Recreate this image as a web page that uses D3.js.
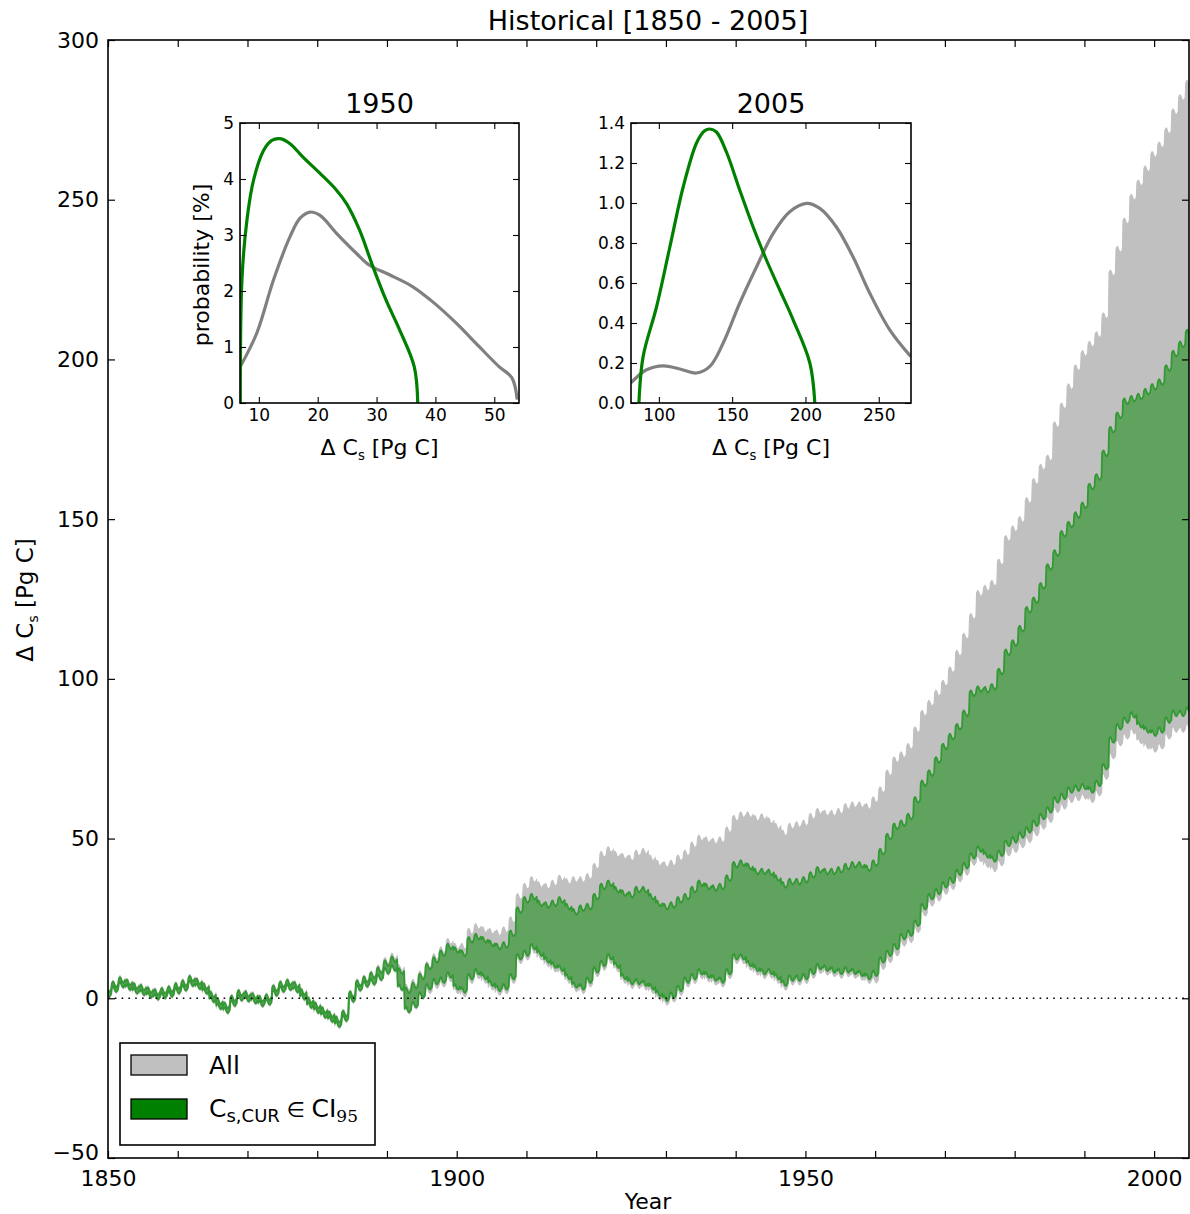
<!DOCTYPE html>
<html>
<head>
<meta charset="utf-8">
<script src="https://cdn.jsdelivr.net/npm/d3@7"></script>
<style>
  body { margin: 0; background: #fff; }
  text { font-family: "DejaVu Sans", sans-serif; fill: #000; }
</style>
</head>
<body>
<svg id="chart" width="1190" height="1214"></svg>
<script>
// ---- data ----
const firstYear = 1850, lastYear = 2005;
const years = d3.range(firstYear, lastYear + 1);

// annual edges of the "All" ensemble band (grey)
const grayHigh = [
  3.2, 4.7, 6.1, 5.3, 4.2, 3.7, 2.9, 2.3, 2.7, 3.2,
  4.2, 5.1, 6.5, 5.6, 4.1, 1.5, -0.7, -1.9, 0.3, 2.0,
  1.7, 1.1, 0.2, 0.7, 3.5, 4.7, 5.3, 4.6, 2.3, -0.3,
  -1.9, -3.4, -4.7, -6.3, -4.4, 1.6, 5.1, 6.3, 7.6, 9.4,
  11.8, 13.2, 9.5, 3.5, 5.0, 7.6, 10.5, 13.0, 15.1, 17.7,
  16.2, 16.2, 20.9, 22.4, 21.4, 20.9, 20.4, 21.4, 24.5, 31.8,
  35.0, 37.1, 35.5, 35.0, 36.0, 37.6, 36.5, 37.1, 37.1, 38.1,
  41.3, 45.0, 46.5, 45.0, 44.4, 43.9, 45.4, 46.0, 43.9, 42.3,
  41.8, 42.3, 43.9, 45.4, 48.0, 50.1, 49.6, 49.1, 49.6, 52.7,
  56.3, 57.4, 57.4, 56.3, 56.8, 55.5, 53.8, 51.7, 53.8, 54.3,
  54.8, 56.9, 58.5, 57.9, 57.9, 58.5, 60.0, 60.5, 60.5, 60.0,
  62.1, 65.2, 70.5, 74.6, 76.2, 78.8, 84.0, 89.2, 92.3, 95.5,
  98.6, 102.8, 108.0, 113.3, 119.5, 126.7, 128.3, 129.9, 136.5, 143.9,
  146.9, 149.8, 155.8, 161.7, 166.2, 169.1, 179.5, 185.4, 191.4, 197.3,
  201.8, 204.7, 207.7, 213.6, 227.0, 234.4, 243.3, 250.7, 255.2, 259.6,
  264.1, 267.1, 271.5, 277.5, 281.9, 286.4
];
const grayLow = [
  1.0, 2.5, 3.9, 3.1, 2.0, 1.5, 0.7, 0.1, 0.5, 1.0,
  2.0, 2.9, 4.3, 3.4, 1.9, -0.7, -2.9, -4.1, -1.9, -0.2,
  -0.5, -1.1, -2.0, -1.5, 1.3, 2.5, 3.1, 2.4, 0.1, -2.5,
  -4.1, -5.6, -6.9, -8.5, -6.6, -0.6, 2.9, 4.1, 4.8, 6.2,
  8.2, 9.1, 3.1, -3.9, -2.4, 0.6, 2.4, 4.0, 4.5, 6.1,
  2.4, 1.4, 5.6, 7.1, 5.6, 3.5, 1.9, 2.4, 5.6, 11.8,
  12.9, 15.0, 12.9, 10.8, 9.2, 8.2, 5.6, 3.0, 2.4, 4.5,
  7.7, 9.7, 11.8, 9.2, 5.6, 4.0, 4.0, 3.5, 2.4, 0.3,
  -1.2, -0.2, 1.9, 4.5, 5.6, 7.1, 6.1, 5.1, 4.5, 7.1,
  11.8, 11.8, 9.7, 8.2, 7.1, 7.2, 5.6, 3.5, 5.1, 5.1,
  5.6, 7.2, 8.7, 8.2, 7.7, 7.2, 7.7, 7.2, 6.6, 5.6,
  5.8, 10.0, 12.1, 14.2, 17.3, 18.4, 21.5, 26.7, 29.8, 31.4,
  33.5, 35.0, 37.4, 39.5, 42.6, 43.7, 41.9, 40.6, 42.4, 45.5,
  46.6, 48.1, 49.7, 51.8, 53.9, 56.0, 59.1, 60.2, 62.2, 62.8,
  63.3, 62.2, 64.3, 69.5, 75.9, 80.0, 82.1, 83.7, 80.6, 79.0,
  78.0, 79.0, 82.1, 84.2, 84.2, 85.2
];
// annual edges of the Cs,CUR in CI95 band (green)
const greenHigh = [
  2.8, 4.3, 5.7, 4.9, 3.8, 3.3, 2.5, 1.9, 2.3, 2.8,
  3.8, 4.7, 6.1, 5.2, 3.7, 1.1, -1.1, -2.3, -0.1, 1.6,
  1.3, 0.7, -0.2, 0.3, 3.1, 4.3, 4.9, 4.2, 1.9, -0.7,
  -2.3, -3.8, -5.1, -6.7, -4.8, 1.2, 4.7, 5.9, 7.2, 8.8,
  11.0, 12.2, 8.5, 2.5, 4.0, 6.8, 9.9, 12.0, 14.1, 16.2,
  15.1, 14.1, 18.3, 19.3, 18.3, 17.2, 16.2, 16.7, 20.3, 27.6,
  30.8, 31.8, 29.7, 29.2, 29.7, 30.8, 28.7, 27.1, 28.2, 28.7,
  31.8, 35.0, 36.0, 34.0, 32.9, 32.4, 34.0, 34.0, 31.8, 29.7,
  28.7, 29.2, 30.8, 31.8, 34.0, 36.0, 35.0, 34.5, 35.0, 37.6,
  41.8, 42.3, 41.2, 39.7, 39.7, 39.4, 37.6, 35.5, 36.5, 36.5,
  37.1, 38.6, 40.2, 39.7, 39.7, 40.2, 41.2, 41.8, 41.8, 40.7,
  42.3, 45.9, 50.6, 53.8, 54.8, 56.9, 62.1, 67.3, 70.5, 74.6,
  78.8, 81.9, 85.0, 89.2, 95.5, 96.8, 96.6, 97.5, 102.3, 108.3,
  111.2, 115.7, 121.6, 124.6, 129.1, 135.0, 139.4, 145.4, 148.3, 151.3,
  154.3, 160.2, 163.2, 170.6, 178.0, 182.5, 186.9, 187.7, 188.4, 189.9,
  191.4, 192.9, 197.3, 201.8, 204.7, 208.4
];
const greenLow = [
  1.4, 2.9, 4.3, 3.5, 2.4, 1.9, 1.1, 0.5, 0.9, 1.4,
  2.4, 3.3, 4.7, 3.8, 2.3, -0.3, -2.5, -3.7, -1.5, 0.2,
  -0.1, -0.7, -1.6, -1.1, 1.7, 2.9, 3.5, 2.8, 0.5, -2.1,
  -3.7, -5.2, -6.5, -8.1, -6.2, -0.2, 3.3, 4.5, 5.2, 6.6,
  8.6, 9.5, 3.5, -3.5, -2.0, 1.0, 3.6, 5.2, 5.7, 7.3,
  3.6, 2.6, 6.8, 8.3, 6.8, 4.7, 3.1, 3.6, 6.8, 13.0,
  14.1, 16.2, 14.1, 12.0, 10.4, 9.4, 6.8, 4.2, 3.6, 5.7,
  8.9, 10.9, 13.0, 10.4, 6.8, 5.2, 5.2, 4.7, 3.6, 1.5,
  0.0, 1.0, 3.1, 5.7, 6.8, 8.3, 7.3, 6.3, 5.7, 8.3,
  13.0, 13.0, 10.9, 9.4, 8.3, 8.4, 6.8, 4.7, 6.3, 6.3,
  6.8, 8.4, 9.9, 9.4, 8.9, 8.4, 8.9, 8.4, 7.8, 6.8,
  7.8, 12.0, 14.1, 16.2, 19.3, 20.4, 23.5, 28.7, 31.8, 33.4,
  35.5, 37.0, 39.4, 41.5, 44.6, 46.7, 44.9, 43.6, 45.4, 48.5,
  49.6, 51.1, 52.7, 54.8, 56.9, 59.0, 62.1, 63.2, 65.2, 65.8,
  66.3, 65.2, 67.3, 72.5, 80.9, 85.0, 87.1, 88.7, 85.6, 84.0,
  83.0, 84.0, 87.1, 89.2, 89.2, 90.2
];
// monthly anomaly (Pg C) giving the yearly wiggle of both bands
const seasonalCycle = [0.2, 0.6, 0.9, 0.8, 0.3, -0.2, -0.6, -0.8, -0.9, -0.6, -0.3, 0.0];

// inset PDFs, 1950
const pdf1950All = [[6.85,0.65],[9.66,1.25],[12.5,2.2],[15.3,2.97],[17.0,3.3],[18.7,3.41],[20.4,3.35],[23.2,3.03],[26.6,2.67],[28.8,2.46],[32.2,2.29],[36.1,2.08],[39.5,1.81],[43.5,1.43],[47.4,1.01],[50.8,0.65],[53.0,0.45],[53.9,0.06]];
const pdf1950Cur = [[6.85,0],[7.13,2.2],[7.97,3.26],[9.1,3.98],[10.8,4.51],[12.2,4.69],[13.6,4.72],[15.3,4.63],[17.5,4.39],[20.4,4.10],[23.2,3.80],[24.9,3.56],[27.1,3.09],[29.4,2.43],[31.6,1.84],[33.9,1.31],[36.4,0.65],[37.0,0]];
// inset PDFs, 2005
const pdf2005All = [[80.9,0.10],[91.6,0.166],[103,0.186],[114.3,0.17],[125.7,0.15],[134.8,0.183],[143.9,0.30],[155.2,0.50],[166.6,0.68],[178,0.848],[189.3,0.956],[200.7,0.998],[209.8,0.973],[221.1,0.88],[232.5,0.73],[243.9,0.549],[257.5,0.366],[271.8,0.233]];
const pdf2005Cur = [[86.4,0],[89.3,0.233],[98.4,0.48],[107.5,0.78],[116.6,1.08],[125.7,1.30],[131.0,1.36],[134.8,1.37],[139.3,1.355],[146.1,1.255],[155.2,1.064],[164.3,0.88],[173.4,0.715],[182.5,0.565],[191.6,0.416],[203.0,0.20],[206.4,0]];

const yTicks = [-50, 0, 50, 100, 150, 200, 250, 300];
const xTicks = d3.range(1850, 2001, 10);
const xLabels = [1850, 1900, 1950, 2000];

// ---- drawing ----
const svg = d3.select("#chart");
const plot = {left: 108, right: 1189, top: 40, bottom: 1158};

const x = d3.scaleLinear().domain([firstYear, lastYear]).range([plot.left, plot.right]);
const y = d3.scaleLinear().domain([-50, 300]).range([plot.bottom, plot.top]);

svg.append("defs").append("clipPath").attr("id", "mainClip")
  .append("rect").attr("x", plot.left).attr("y", plot.top)
  .attr("width", plot.right - plot.left).attr("height", plot.bottom - plot.top);

const monthly = [];
years.forEach((yr, i) => {
  seasonalCycle.forEach((s, m) => {
    monthly.push({
      t: yr - 0.5 + (m + 0.5) / 12,
      gl: grayLow[i] + s, gh: grayHigh[i] + s,
      cl: greenLow[i] + s, ch: greenHigh[i] + s
    });
  });
});

const bands = svg.append("g").attr("clip-path", "url(#mainClip)");

bands.append("path").datum(monthly)
  .attr("d", d3.area().x(d => x(d.t)).y0(d => y(d.gl)).y1(d => y(d.gh)))
  .attr("fill", "#c0c0c0").attr("stroke", "#c0c0c0").attr("stroke-width", 1.2);

bands.append("path").datum(monthly)
  .attr("d", d3.area().x(d => x(d.t)).y0(d => y(d.cl)).y1(d => y(d.ch)))
  .attr("fill", "#5fa35f");

["cl", "ch"].forEach(k => {
  bands.append("path").datum(monthly)
    .attr("d", d3.line().x(d => x(d.t)).y(d => y(d[k])))
    .attr("fill", "none").attr("stroke", "#339933").attr("stroke-width", 1.8)
    .attr("stroke-linejoin", "round");
});

// zero line
svg.append("line")
  .attr("x1", plot.left).attr("x2", plot.right)
  .attr("y1", y(0)).attr("y2", y(0))
  .attr("stroke", "#000").attr("stroke-width", 1.6)
  .attr("stroke-dasharray", "1.6,5.2");

// axes, ticks pointing inward
function styleAxis(g) {
  g.select(".domain").remove();
  g.selectAll(".tick line").attr("stroke", "#000").attr("stroke-width", 1.2);
  g.selectAll(".tick text").attr("font-size", 22).attr("font-family", "DejaVu Sans");
}
svg.append("g").attr("transform", `translate(${plot.left},0)`)
  .call(d3.axisLeft(y).tickValues(yTicks).tickSize(-7).tickPadding(9))
  .call(styleAxis)
  .call(g => g.selectAll(".tick text").filter(d => d === -50).attr("dy", "0.08em"));
svg.append("g").attr("transform", `translate(${plot.right},0)`)
  .call(d3.axisRight(y).tickValues(yTicks).tickSize(-7).tickFormat(""))
  .call(styleAxis);
svg.append("g").attr("transform", `translate(0,${plot.bottom})`)
  .call(d3.axisBottom(x).tickValues(xTicks).tickSize(-7).tickPadding(12)
    .tickFormat(d => xLabels.includes(d) ? d : ""))
  .call(styleAxis);
svg.append("g").attr("transform", `translate(0,${plot.top})`)
  .call(d3.axisTop(x).tickValues(xTicks).tickSize(-7).tickFormat(""))
  .call(styleAxis);

svg.append("rect")
  .attr("x", plot.left).attr("y", plot.top)
  .attr("width", plot.right - plot.left).attr("height", plot.bottom - plot.top)
  .attr("fill", "none").attr("stroke", "#000").attr("stroke-width", 1.6);

// titles
svg.append("text").attr("x", 648).attr("y", 30).attr("text-anchor", "middle")
  .attr("font-size", 27).text("Historical [1850 - 2005]");
svg.append("text").attr("x", 648).attr("y", 1209).attr("text-anchor", "middle")
  .attr("font-size", 22).text("Year");

function deltaLabel(sel, size) {
  sel.append("tspan").text("Δ C");
  sel.append("tspan").attr("font-size", size * 0.6).attr("dy", size * 0.22).text("s");
  sel.append("tspan").attr("dy", -size * 0.22).text("  [Pg C]");
}
svg.append("text").attr("transform", "translate(33,600) rotate(-90)")
  .attr("text-anchor", "middle").attr("font-size", 23)
  .call(deltaLabel, 23);

// ---- insets ----
function inset(cfg) {
  const ix = d3.scaleLinear().domain(cfg.xDomain).range([cfg.left, cfg.right]);
  const iy = d3.scaleLinear().domain(cfg.yDomain).range([403, 123]);
  const g = svg.append("g");
  g.append("rect").attr("x", cfg.left).attr("y", 123)
    .attr("width", cfg.right - cfg.left).attr("height", 280).attr("fill", "#fff");
  g.append("clipPath").attr("id", cfg.id)
    .append("rect").attr("x", cfg.left).attr("y", 123)
    .attr("width", cfg.right - cfg.left).attr("height", 280);

  const line = d3.line().x(d => ix(d[0])).y(d => iy(d[1])).curve(d3.curveCatmullRom.alpha(0.5));
  const lines = g.append("g").attr("clip-path", `url(#${cfg.id})`);
  lines.append("path").datum(cfg.all).attr("d", line)
    .attr("fill", "none").attr("stroke", "#808080").attr("stroke-width", 3.2);
  lines.append("path").datum(cfg.cur).attr("d", line)
    .attr("fill", "none").attr("stroke", "#008000").attr("stroke-width", 3.2);

  const st = a => a.call(ag => {
    ag.select(".domain").remove();
    ag.selectAll(".tick line").attr("stroke", "#000").attr("stroke-width", 1.1);
    ag.selectAll(".tick text").attr("font-size", 17).attr("font-family", "DejaVu Sans");
  });
  g.append("g").attr("transform", `translate(${cfg.left},0)`)
    .call(d3.axisLeft(iy).tickValues(cfg.yTicks).tickSize(-6).tickPadding(6).tickFormat(cfg.yFormat)).call(st);
  g.append("g").attr("transform", `translate(${cfg.right},0)`)
    .call(d3.axisRight(iy).tickValues(cfg.yTicks).tickSize(-6).tickFormat("")).call(st);
  g.append("g").attr("transform", `translate(0,403)`)
    .call(d3.axisBottom(ix).tickValues(cfg.xTicks).tickSize(-6).tickPadding(6)).call(st);
  g.append("g").attr("transform", `translate(0,123)`)
    .call(d3.axisTop(ix).tickValues(cfg.xTicks).tickSize(-6).tickFormat("")).call(st);

  g.append("rect").attr("x", cfg.left).attr("y", 123)
    .attr("width", cfg.right - cfg.left).attr("height", 280)
    .attr("fill", "none").attr("stroke", "#000").attr("stroke-width", 1.6);

  const cx = (cfg.left + cfg.right) / 2;
  g.append("text").attr("x", cx).attr("y", 113).attr("text-anchor", "middle")
    .attr("font-size", 27).text(cfg.title);
  g.append("text").attr("x", cx).attr("y", 455).attr("text-anchor", "middle")
    .attr("font-size", 22).call(deltaLabel, 22);
  if (cfg.yLabel) {
    g.append("text").attr("transform", `translate(209,265) rotate(-90)`)
      .attr("text-anchor", "middle").attr("font-size", 22).text(cfg.yLabel);
  }
}

inset({
  id: "clip1950", left: 240, right: 519, xDomain: [6.8, 54.2], yDomain: [0, 5],
  xTicks: [10, 20, 30, 40, 50], yTicks: [0, 1, 2, 3, 4, 5], yFormat: d3.format("d"),
  all: pdf1950All, cur: pdf1950Cur, title: "1950", yLabel: "probability [%]"
});
inset({
  id: "clip2005", left: 631, right: 911, xDomain: [81, 272], yDomain: [0, 1.4],
  xTicks: [100, 150, 200, 250], yTicks: [0, 0.2, 0.4, 0.6, 0.8, 1.0, 1.2, 1.4], yFormat: d3.format(".1f"),
  all: pdf2005All, cur: pdf2005Cur, title: "2005", yLabel: null
});

// ---- legend ----
const lg = svg.append("g");
lg.append("rect").attr("x", 120).attr("y", 1043).attr("width", 255).attr("height", 102)
  .attr("fill", "#fff").attr("stroke", "#000").attr("stroke-width", 1.6);
lg.append("rect").attr("x", 131).attr("y", 1055).attr("width", 56).attr("height", 20)
  .attr("fill", "#c0c0c0").attr("stroke", "#000").attr("stroke-width", 1.3);
lg.append("rect").attr("x", 131).attr("y", 1099).attr("width", 56).attr("height", 20)
  .attr("fill", "#008000").attr("stroke", "#000").attr("stroke-width", 1.3);
lg.append("text").attr("x", 209).attr("y", 1074).attr("font-size", 25).text("All");
const t2 = lg.append("text").attr("x", 209).attr("y", 1117).attr("font-size", 25);
t2.append("tspan").text("C");
t2.append("tspan").attr("font-size", 18).attr("dy", 5).text("s,CUR");
t2.append("tspan").attr("font-size", 21).attr("dy", -5).text(" ∈ ");
t2.append("tspan").attr("font-size", 25).text("CI");
t2.append("tspan").attr("font-size", 17).attr("font-family", "DejaVu Serif").attr("dy", 5).text("95");
</script>
</body>
</html>
